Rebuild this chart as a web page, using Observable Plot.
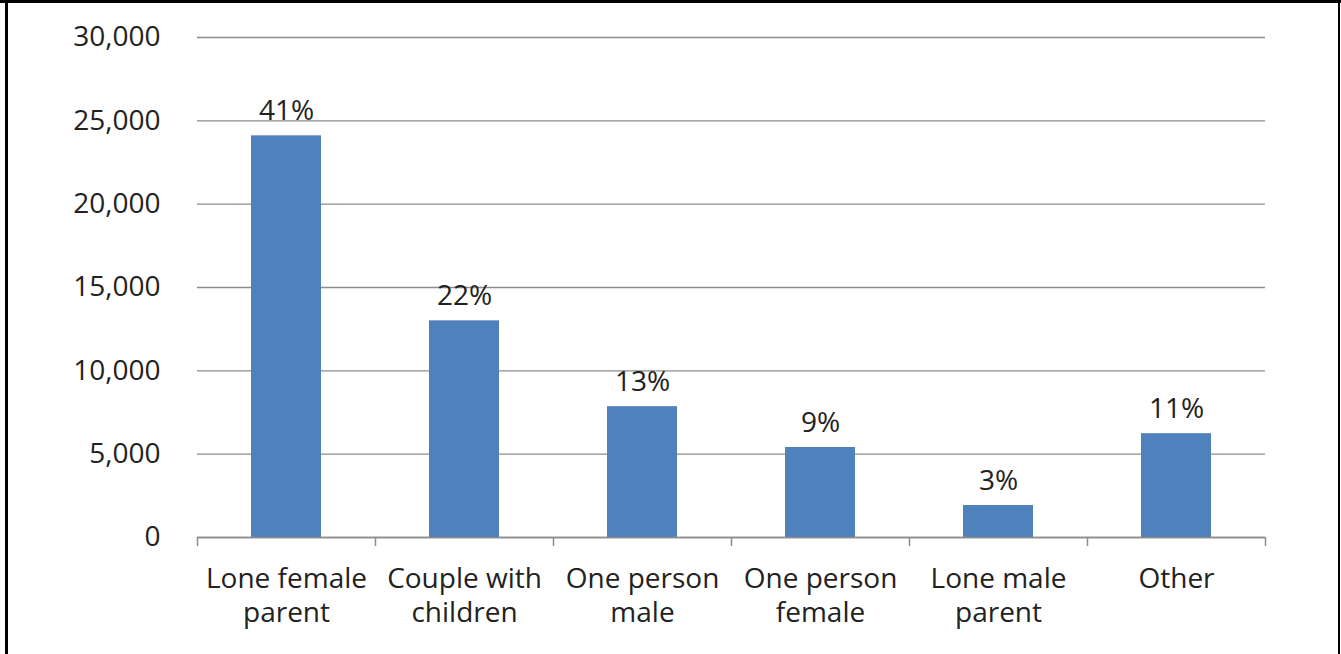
<!DOCTYPE html>
<html>
<head>
<meta charset="utf-8">
<script src="https://cdn.jsdelivr.net/npm/d3@7"></script>
<script src="https://cdn.jsdelivr.net/npm/@observablehq/plot@0.6"></script>
<style>
  html, body { margin: 0; padding: 0; background: #fff; }
  #wrap { position: relative; width: 1341px; height: 654px; overflow: hidden; }
  #chart { position: absolute; left: 0; top: 0; }
  .b { position: absolute; background: #000; }
</style>
</head>
<body>
<div id="wrap">
  <div id="chart"></div>
  <div class="b" style="left:0;top:0;width:1341px;height:3px;"></div>
  <div class="b" style="left:5px;top:0;width:3px;height:654px;"></div>
  <div class="b" style="left:1338px;top:0;width:2px;height:654px;"></div>
</div>
<script>
const categories = ["Lone female parent", "Couple with children", "One person male", "One person female", "Lone male parent", "Other"];
const categoryLines = ["Lone female\nparent", "Couple with\nchildren", "One person\nmale", "One person\nfemale", "Lone male\nparent", "Other"];
const counts = [24100, 13000, 7850, 5400, 1920, 6230];
const shares = ["41%", "22%", "13%", "9%", "3%", "11%"];
const yTicks = [0, 5000, 10000, 15000, 20000, 25000, 30000];

const data = categories.map((c, i) => ({category: c, count: counts[i], share: shares[i]}));
const labelOf = new Map(categories.map((c, i) => [c, categoryLines[i]]));

const width = 1341, height = 654;
const marginLeft = 197, marginRight = 76, marginTop = 37, marginBottom = 117;
const step = (width - marginLeft - marginRight) / categories.length;
const gray = "#8c8c8c";

const chart = Plot.plot({
  width, height, marginLeft, marginRight, marginTop, marginBottom,
  style: {fontFamily: "'Open Sans', sans-serif", fontSize: "28px", color: "#222", background: "#fff"},
  x: {domain: categories, paddingInner: 0.607, paddingOuter: 0.3035, label: null},
  y: {domain: [0, 30000], label: null},
  marks: [
    Plot.gridY(yTicks, {stroke: gray, strokeOpacity: 1, strokeWidth: 1.3}),
    Plot.barY(data, {x: "category", y: "count", fill: "#4F81BD"}),
    Plot.ruleY([0], {stroke: gray, strokeWidth: 1.5}),
    Plot.ruleX(categories, {x: d => d, y1: 0, y2: 0, dx: -step / 2, insetBottom: -9, stroke: gray, strokeWidth: 1.5}),
    Plot.ruleX(categories.slice(-1), {x: d => d, y1: 0, y2: 0, dx: step / 2, insetBottom: -9, stroke: gray, strokeWidth: 1.5}),
    Plot.text(data, {x: "category", y: "count", text: "share", lineAnchor: "bottom", dy: -16, fill: "#222", fontSize: 28}),
    Plot.axisY({ticks: yTicks, tickSize: 0, tickPadding: 37, tickFormat: d3.format(","), fontSize: 28, label: null}),
    Plot.axisX({tickSize: 0, tickPadding: 27, tickFormat: d => labelOf.get(d), lineHeight: 1.2, fontSize: 28, label: null})
  ]
});
document.getElementById("chart").appendChild(chart);
</script>
</body>
</html>
